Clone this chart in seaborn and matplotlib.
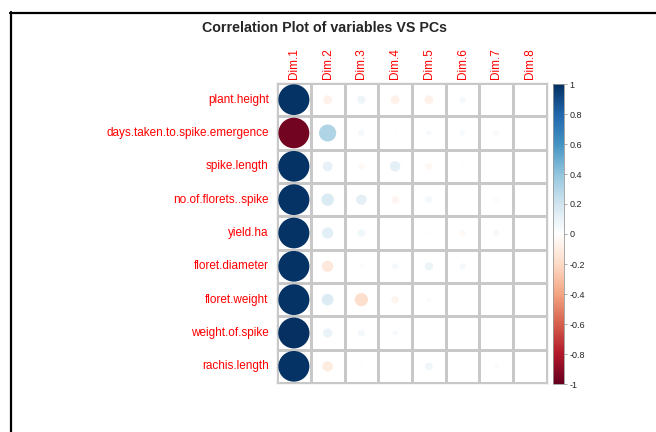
import numpy as np
import pandas as pd
import matplotlib
matplotlib.use('Agg')
import matplotlib.pyplot as plt
import seaborn as sns
from matplotlib.colors import LinearSegmentedColormap, ListedColormap, Normalize
from matplotlib.patches import Circle
from matplotlib.lines import Line2D
from matplotlib.cm import ScalarMappable

# Data: correlation of each variable with the principal components
VARIABLES = [
    'plant.height', 'days.taken.to.spike.emergence', 'spike.length',
    'no.of.florets..spike', 'yield.ha', 'floret.diameter', 'floret.weight',
    'weight.of.spike', 'rachis.length'
]
DIMS = ['Dim.1', 'Dim.2', 'Dim.3', 'Dim.4', 'Dim.5', 'Dim.6', 'Dim.7', 'Dim.8']

plant_height = [0.98, -0.08, 0.07, -0.08, -0.08, 0.04, -0.01, 0.0]
days_taken = [-0.97, 0.30, 0.04, 0.015, 0.03, 0.03, 0.03, 0.0]
spike_length = [0.98, 0.10, -0.04, 0.11, -0.05, 0.01, 0.01, 0.0]
no_of_florets = [0.98, 0.16, 0.11, -0.06, 0.05, 0.01, -0.03, 0.0]
yield_ha = [0.98, 0.13, 0.06, 0.01, -0.02, -0.04, 0.04, 0.0]
floret_diameter = [0.98, -0.13, 0.02, 0.04, 0.07, 0.04, 0.01, 0.0]
floret_weight = [0.98, 0.14, -0.18, -0.06, 0.02, -0.01, 0.0, 0.0]
weight_of_spike = [0.99, 0.09, 0.05, 0.03, 0.01, -0.01, 0.005, 0.005]
rachis_length = [0.98, -0.11, 0.01, 0.01, 0.06, -0.01, 0.02, 0.0]

CBAR_TICKS = [1, 0.8, 0.6, 0.4, 0.2, 0, -0.2, -0.4, -0.6, -0.8, -1]
CBAR_LABELS = ['1', '0.8', '0.6', '0.4', '0.2', '0', '-0.2', '-0.4', '-0.6', '-0.8', '-1']

TITLE = 'Correlation Plot of variables VS PCs'

# corrplot-like diverging palette
RDBU = ['#67001F', '#B2182B', '#D6604D', '#F4A582', '#FDDBC7', '#FFFFFF',
        '#D1E5F0', '#92C5DE', '#4393C3', '#2166AC', '#053061']

W, H = 656, 432
GRID_COL = '#c8c8c8'


def main():
    df = pd.DataFrame(
        [plant_height, days_taken, spike_length, no_of_florets, yield_ha,
         floret_diameter, floret_weight, weight_of_spike, rachis_length],
        index=VARIABLES, columns=DIMS
    )

    sns.set_style('white')
    plt.rcParams['font.family'] = ['Liberation Sans', 'DejaVu Sans']

    cmap = LinearSegmentedColormap.from_list('corr', RDBU, N=200)
    norm = Normalize(vmin=-1, vmax=1)

    fig = plt.figure(figsize=(W / 100, H / 100), dpi=100)
    ax = fig.add_axes([277 / W, 1 - 383 / H, 270 / W, 300 / H])

    # white grid of cells
    sns.heatmap(np.zeros(df.shape), cmap=ListedColormap(['white']), cbar=False,
                linewidths=0.8, linecolor=GRID_COL, ax=ax,
                xticklabels=df.columns, yticklabels=df.index)
    for spine in ax.spines.values():
        spine.set_visible(True)
        spine.set_color(GRID_COL)
        spine.set_linewidth(1.0)

    # circles: area proportional to |r|
    for i, var in enumerate(df.index):
        for j, dim in enumerate(df.columns):
            r = df.loc[var, dim]
            if abs(r) < 1e-6:
                continue
            ax.add_patch(Circle((j + 0.5, i + 0.5), 0.465 * np.sqrt(abs(r)),
                                facecolor=cmap(norm(r)), edgecolor='none', zorder=3))

    ax.xaxis.tick_top()
    ax.tick_params(axis='both', length=0)
    ax.tick_params(axis='x', pad=3)
    ax.tick_params(axis='y', pad=6)
    plt.setp(ax.get_xticklabels(), rotation=90, color='red', fontsize=8.5, ha='center', va='bottom')
    plt.setp(ax.get_yticklabels(), rotation=0, color='red', fontsize=8.5)

    # colour legend
    cax = fig.add_axes([553 / W, 1 - 384 / H, 11 / W, 300 / H])
    sm = ScalarMappable(norm=norm, cmap=cmap)
    cb = fig.colorbar(sm, cax=cax)
    cb.set_ticks(CBAR_TICKS)
    cb.set_ticklabels(CBAR_LABELS)
    cb.outline.set_edgecolor('#999999')
    cb.outline.set_linewidth(0.6)
    cax.tick_params(length=2, width=0.5, color='#888888', labelsize=6.5, pad=2)

    fig.text(325 / W, 1 - 28 / H, TITLE, ha='center', va='center',
             fontsize=10.3, fontweight='bold')

    # outer frame (cut off at right and bottom)
    fig.add_artist(Line2D([10.5 / W, 10.5 / W], [0, 1 - 12 / H], transform=fig.transFigure,
                          color='black', lw=1.6))
    fig.add_artist(Line2D([10 / W, 1], [1 - 12.5 / H, 1 - 12.5 / H], transform=fig.transFigure,
                          color='black', lw=1.6))

    fig.savefig('out.png', dpi=100)
    plt.close(fig)


if __name__ == '__main__':
    main()
